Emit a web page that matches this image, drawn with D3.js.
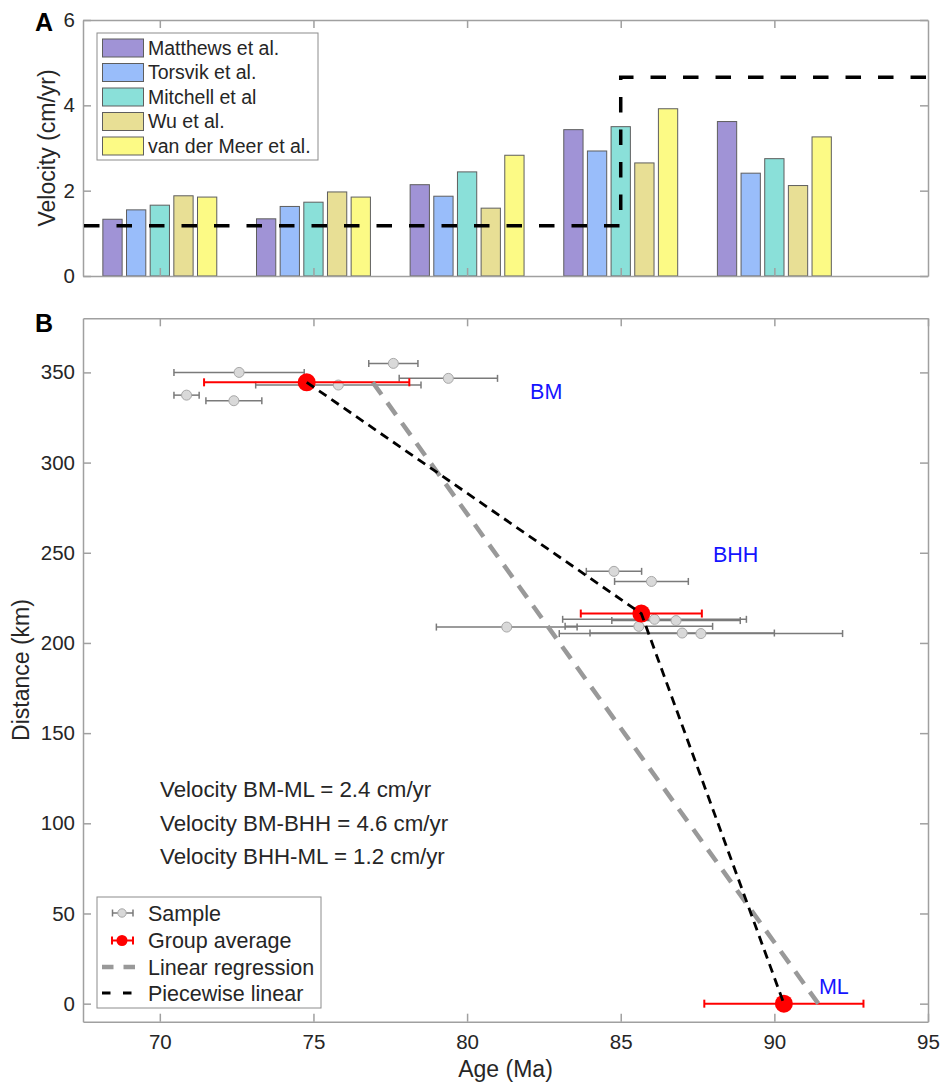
<!DOCTYPE html>
<html>
<head>
<meta charset="utf-8">
<script src="https://cdn.jsdelivr.net/npm/d3@7"></script>
<style>
  html, body { margin: 0; padding: 0; background: #fff; }
  svg { display: block; font-family: "Liberation Sans", Arial, Helvetica, sans-serif; }
</style>
</head>
<body>
<script>
// ---------------- DATA ----------------
// Panel A: velocities (cm/yr) for each age group
const groupAges = [70, 75, 80, 85, 90];
const seriesNames = ["Matthews et al.", "Torsvik et al.", "Mitchell et al", "Wu et al.", "van der Meer et al."];
const matthews   = [1.33, 1.34, 2.14, 3.43, 3.62];
const torsvik    = [1.55, 1.63, 1.87, 2.93, 2.41];
const mitchell   = [1.66, 1.73, 2.44, 3.50, 2.75];
const wu         = [1.88, 1.97, 1.59, 2.65, 2.12];
const vanDerMeer = [1.85, 1.85, 2.83, 3.92, 3.26];
const seriesColors = ["#a093d6", "#99bdfa", "#8ae0d9", "#e8df95", "#fcfa85"];
// piecewise velocity step (age, velocity)
const stepAges = [67.5, 85, 85, 95];
const stepVel  = [1.18, 1.18, 4.66, 4.66];

// Panel B: samples (age Ma, half error Ma, distance km)
const sampleAge  = [72.58, 77.60, 79.39, 75.81, 70.87, 72.41, 84.78, 86.00, 86.10, 86.80, 85.59, 81.29, 87.00, 87.61];
const sampleErr  = [2.12, 0.80, 1.60, 2.69, 0.41, 0.91, 0.90, 1.20, 2.99, 2.09, 2.40, 2.29, 3.00, 4.61];
const sampleDist = [350.0, 355.0, 346.7, 343.0, 337.4, 334.3, 239.7, 234.1, 213.1, 212.4, 209.2, 208.8, 205.5, 205.2];
// group averages
const groupNames = ["BM", "BHH", "ML"];
const groupAge  = [74.78, 85.67, 90.31];
const groupErr  = [3.34, 1.97, 2.59];
const groupDist = [344.5, 216.3, 0];
// linear regression endpoints
const regAge  = [76.93, 91.43];
const regDist = [344.5, 0];
// site label anchors (age, distance)
const siteLabelAge  = [82.05, 88.0, 91.45];
const siteLabelDist = [335.0, 245.0, 5.5];
const velocityTexts = ["Velocity BM-ML = 2.4 cm/yr", "Velocity BM-BHH = 4.6 cm/yr", "Velocity BHH-ML = 1.2 cm/yr"];
const xTicksB = [70, 75, 80, 85, 90, 95];
const yTicksB = [0, 50, 100, 150, 200, 250, 300, 350];
const yTicksA = [0, 2, 4, 6];

// ---------------- SETUP ----------------
const W = 952, H = 1083;
const svg = d3.select("body").append("svg").attr("width", W).attr("height", H);
const AX = "#a0a0a0", TXT = "#262626";

const x  = d3.scaleLinear().domain([67.5, 95]).range([83, 928]);
const yA = d3.scaleLinear().domain([0, 6]).range([276, 20]);
const yB = d3.scaleLinear().domain([-10, 380]).range([1021.7, 318.3]);

function styleAxis(g, fs) {
  g.selectAll(".domain").attr("stroke", AX).attr("stroke-width", 1.5);
  g.selectAll(".tick line").attr("stroke", AX).attr("stroke-width", 1.5);
  g.selectAll(".tick text").attr("fill", TXT).style("font-size", fs + "px")
    .style("font-family", '"Liberation Sans", Arial, sans-serif');
}

// ---------------- PANEL A ----------------
const gA = svg.append("g");
const seriesVals = [matthews, torsvik, mitchell, wu, vanDerMeer];
const inner = d3.scaleBand().domain(d3.range(seriesNames.length))
  .range([-1.925, 1.925]).paddingInner(0.185).paddingOuter(0.0925);
const pxPerMa = x(1) - x(0);

groupAges.forEach((age, gi) => {
  seriesVals.forEach((vals, si) => {
    const x0 = x(age + inner(si));
    gA.append("rect")
      .attr("x", x0).attr("y", yA(vals[gi]))
      .attr("width", inner.bandwidth() * pxPerMa)
      .attr("height", yA(0) - yA(vals[gi]))
      .attr("fill", seriesColors[si]).attr("stroke", "#5e5e5e").attr("stroke-width", 1);
  });
});

// axes A
gA.append("g").attr("transform", `translate(0,${yA(0)})`)
  .call(d3.axisBottom(x).tickValues(groupAges).tickSize(-8).tickSizeOuter(0).tickFormat(""))
  .call(g => styleAxis(g, 20));
gA.append("g").attr("transform", `translate(0,${yA(6)})`)
  .call(d3.axisTop(x).tickValues(groupAges).tickSize(-8).tickSizeOuter(0).tickFormat(""))
  .call(g => styleAxis(g, 20));
gA.append("g").attr("transform", `translate(${x(67.5)},0)`)
  .call(d3.axisLeft(yA).tickValues(yTicksA).tickSize(-8).tickSizeOuter(0).tickPadding(8).tickFormat(d3.format("d")))
  .call(g => styleAxis(g, 20.5));
gA.append("g").attr("transform", `translate(${x(95)},0)`)
  .call(d3.axisRight(yA).tickValues(yTicksA).tickSize(-8).tickSizeOuter(0).tickFormat(""))
  .call(g => styleAxis(g, 20));

// step dashed line
const stepLine = d3.line().x((d, i) => x(stepAges[i])).y((d, i) => yA(stepVel[i]));
gA.append("path").datum(stepAges).attr("d", stepLine)
  .attr("fill", "none").attr("stroke", "#000").attr("stroke-width", 3.5)
  .attr("stroke-dasharray", "15.5,17").attr("stroke-dashoffset", -1);

// legend A
const legA = gA.append("g");
legA.append("rect").attr("x", 97).attr("y", 33).attr("width", 221).attr("height", 127)
  .attr("fill", "#fff").attr("stroke", "#8c8c8c").attr("stroke-width", 1);
seriesNames.forEach((name, i) => {
  const cy = 48 + i * 24.5;
  legA.append("rect").attr("x", 102.5).attr("y", cy - 9).attr("width", 41).attr("height", 18)
    .attr("fill", seriesColors[i]).attr("stroke", "#5e5e5e").attr("stroke-width", 1);
  legA.append("text").attr("x", 148).attr("y", cy).attr("dy", "0.35em")
    .attr("fill", TXT).style("font-size", "19.5px").text(name);
});

// axis label A
svg.append("text").attr("transform", `translate(54.5,${(yA(0) + yA(6)) / 2}) rotate(-90)`)
  .attr("text-anchor", "middle").attr("fill", TXT).style("font-size", "23px").text("Velocity (cm/yr)");
svg.append("text").attr("x", 35).attr("y", 31).attr("fill", "#000")
  .style("font-size", "25px").style("font-weight", "bold").text("A");

// ---------------- PANEL B ----------------
const gB = svg.append("g");
gB.append("g").attr("transform", `translate(0,${yB(-10)})`)
  .call(d3.axisBottom(x).tickValues(xTicksB).tickSize(-8).tickSizeOuter(0).tickPadding(13))
  .call(g => styleAxis(g, 20.5));
gB.append("g").attr("transform", `translate(0,${yB(380)})`)
  .call(d3.axisTop(x).tickValues(xTicksB).tickSize(-8).tickSizeOuter(0).tickFormat(""))
  .call(g => styleAxis(g, 20));
gB.append("g").attr("transform", `translate(${x(67.5)},0)`)
  .call(d3.axisLeft(yB).tickValues(yTicksB).tickSize(-8).tickSizeOuter(0).tickPadding(8))
  .call(g => styleAxis(g, 20.5));
gB.append("g").attr("transform", `translate(${x(95)},0)`)
  .call(d3.axisRight(yB).tickValues(yTicksB).tickSize(-8).tickSizeOuter(0).tickFormat(""))
  .call(g => styleAxis(g, 20));

function errorBar(g, cx0, cx1, cy, color, sw, cap) {
  g.append("line").attr("x1", cx0).attr("x2", cx1).attr("y1", cy).attr("y2", cy)
    .attr("stroke", color).attr("stroke-width", sw);
  [cx0, cx1].forEach(cx => g.append("line").attr("x1", cx).attr("x2", cx)
    .attr("y1", cy - cap).attr("y2", cy + cap).attr("stroke", color).attr("stroke-width", sw));
}

// samples
const gS = gB.append("g");
sampleAge.forEach((a, i) => {
  errorBar(gS, x(a - sampleErr[i]), x(a + sampleErr[i]), yB(sampleDist[i]), "#7a7a7a", 1.5, 3.5);
});
sampleAge.forEach((a, i) => {
  gS.append("circle").attr("cx", x(a)).attr("cy", yB(sampleDist[i])).attr("r", 5)
    .attr("fill", "#d9d9d9").attr("stroke", "#a8a8a8").attr("stroke-width", 1);
});

// group averages
groupAge.forEach((a, i) => {
  errorBar(gB, x(a - groupErr[i]), x(a + groupErr[i]), yB(groupDist[i]), "#ff0000", 2, 4);
  gB.append("circle").attr("cx", x(a)).attr("cy", yB(groupDist[i])).attr("r", 9).attr("fill", "#ff0000");
});

// regression
gB.append("path").datum(regAge)
  .attr("d", d3.line().x((d, i) => x(regAge[i])).y((d, i) => yB(regDist[i])))
  .attr("fill", "none").attr("stroke", "#999999").attr("stroke-width", 4.5)
  .attr("stroke-dasharray", "15,10");
// piecewise
gB.append("path").datum(groupAge)
  .attr("d", d3.line().x((d, i) => x(groupAge[i])).y((d, i) => yB(groupDist[i])))
  .attr("fill", "none").attr("stroke", "#000").attr("stroke-width", 2.8)
  .attr("stroke-dasharray", "9,6");

// site labels
groupNames.forEach((n, i) => {
  gB.append("text").attr("x", x(siteLabelAge[i])).attr("y", yB(siteLabelDist[i]))
    .attr("fill", "#1414ff").style("font-size", "21.5px").text(n);
});

// velocity annotations
velocityTexts.forEach((t, i) => {
  gB.append("text").attr("x", 160).attr("y", 797 + i * 33.5)
    .attr("fill", TXT).style("font-size", "22.3px").text(t);
});

// legend B
const legB = gB.append("g");
legB.append("rect").attr("x", 97).attr("y", 897).attr("width", 224).attr("height", 111)
  .attr("fill", "#fff").attr("stroke", "#8c8c8c").attr("stroke-width", 1);
const legBNames = ["Sample", "Group average", "Linear regression", "Piecewise linear"];
const legBY = [913, 940.5, 967, 993];
errorBar(legB, 112.5, 133, legBY[0], "#7a7a7a", 1.5, 3.5);
legB.append("circle").attr("cx", 122).attr("cy", legBY[0]).attr("r", 4.2)
  .attr("fill", "#d9d9d9").attr("stroke", "#a8a8a8");
errorBar(legB, 112, 133, legBY[1], "#ff0000", 2, 4);
legB.append("circle").attr("cx", 122).attr("cy", legBY[1]).attr("r", 5.5).attr("fill", "#ff0000");
legB.append("line").attr("x1", 102).attr("x2", 136).attr("y1", legBY[2]).attr("y2", legBY[2])
  .attr("stroke", "#999").attr("stroke-width", 4.5).attr("stroke-dasharray", "11.5,10");
legB.append("line").attr("x1", 102).attr("x2", 144).attr("y1", legBY[3]).attr("y2", legBY[3])
  .attr("stroke", "#000").attr("stroke-width", 2.8).attr("stroke-dasharray", "8.5,12.5");
legBNames.forEach((n, i) => {
  legB.append("text").attr("x", 148).attr("y", legBY[i]).attr("dy", "0.35em")
    .attr("fill", TXT).style("font-size", "21.5px").text(n);
});

// axis labels B
svg.append("text").attr("transform", `translate(29,${(yB(-10) + yB(380)) / 2}) rotate(-90)`)
  .attr("text-anchor", "middle").attr("fill", TXT).style("font-size", "23px").text("Distance (km)");
svg.append("text").attr("x", (x(67.5) + x(95)) / 2).attr("y", 1077).attr("text-anchor", "middle")
  .attr("fill", TXT).style("font-size", "23px").text("Age (Ma)");
svg.append("text").attr("x", 35).attr("y", 332).attr("fill", "#000")
  .style("font-size", "25px").style("font-weight", "bold").text("B");
</script>
</body>
</html>
